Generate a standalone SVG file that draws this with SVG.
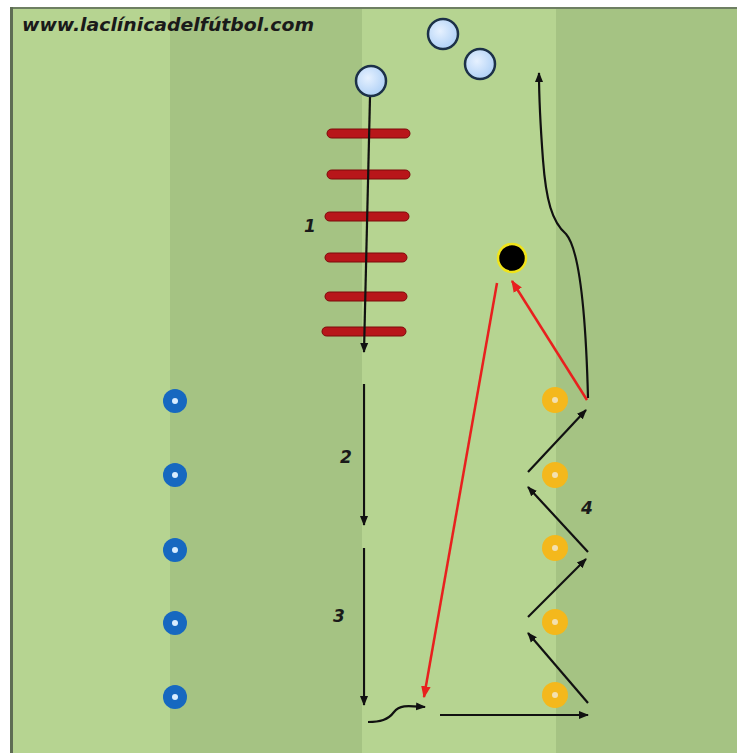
<svg xmlns="http://www.w3.org/2000/svg" width="737" height="753" viewBox="0 0 737 753">
<style>
.lbl{font-family:"DejaVu Sans","Liberation Sans",sans-serif;font-weight:bold;font-style:italic;font-size:17px;fill:#1a1a1a}
.blk{fill:none;stroke:#111;stroke-width:2.2;marker-end:url(#ab)}
.red{fill:none;stroke:#e8201e;stroke-width:2.5;marker-end:url(#ar)}
.rung{fill:#b8161a;stroke:#7d0a0a;stroke-width:1}
.pl{fill:url(#gb);stroke:#1c3148;stroke-width:2.5}
.bc{fill:#1468c0}
.yc{fill:#f4b81c}
.dot{fill:#d8ecff}
</style>
<defs>
<marker id="ab" viewBox="0 0 10 10" refX="9" refY="5" markerWidth="10" markerHeight="10" markerUnits="userSpaceOnUse" orient="auto"><path d="M0,1 L10,5 L0,9 z" fill="#111"/></marker>
<marker id="ar" viewBox="0 0 10 10" refX="9" refY="5" markerWidth="12" markerHeight="12" markerUnits="userSpaceOnUse" orient="auto"><path d="M0,1 L10,5 L0,9 z" fill="#e8201e"/></marker>
<radialGradient id="gb" cx="0.4" cy="0.4" r="0.7"><stop offset="0" stop-color="#e6f1ff"/><stop offset="1" stop-color="#a9cdf5"/></radialGradient>
<filter id="soft" x="-30%" y="-30%" width="160%" height="160%"><feGaussianBlur stdDeviation="0.7"/></filter>
</defs>
<g id="field">
<rect x="0" y="0" width="737" height="753" fill="#ffffff"/>
<rect x="12" y="8" width="725" height="745" fill="#b6d491"/>
<rect x="170" y="8" width="192" height="745" fill="#a5c383"/>
<rect x="556" y="8" width="181" height="745" fill="#a5c383"/>
<rect x="10" y="7" width="727" height="2" fill="#6e7f62"/>
<rect x="10" y="7" width="3" height="746" fill="#5e6d54"/>
</g>
<text id="title" x="22" y="31" class="lbl" font-size="18" textLength="292" lengthAdjust="spacingAndGlyphs">www.laclínicadelfútbol.com</text>
<g id="ladder">
<rect class="rung" x="327" y="129" width="83" height="9" rx="4.5"/>
<rect class="rung" x="327" y="170" width="83" height="9" rx="4.5"/>
<rect class="rung" x="325" y="212" width="84" height="9" rx="4.5"/>
<rect class="rung" x="325" y="253" width="82" height="9" rx="4.5"/>
<rect class="rung" x="325" y="292" width="82" height="9" rx="4.5"/>
<rect class="rung" x="322" y="327" width="84" height="9" rx="4.5"/>
</g>
<g id="connectors">
<path class="blk" d="M370,97 L364,352"/>
<path class="blk" d="M364,384 L364,525"/>
<path class="blk" d="M364,548 L364,705"/>
<path class="blk" d="M368,722 C380,722 388,720 394,712 C400,704 410,706 425,707"/>
<path class="blk" d="M440,715 L588,715"/>
<path class="blk" d="M588,703 L528,633"/>
<path class="blk" d="M528,617 L586,559"/>
<path class="blk" d="M588,552 L528,487"/>
<path class="blk" d="M528,472 L586,410"/>
<path class="blk" d="M588,398 C586,320 580,250 566,234 C552,222 546,200 543,160 C540,120 539,95 539,73"/>
<path class="red" d="M497,283 L424,697"/>
<path class="red" d="M587,400 L512,281"/>
</g>
<g id="players">
<circle id="p1" class="pl" cx="371" cy="81" r="15"/>
<circle id="p2" class="pl" cx="443" cy="34" r="15"/>
<circle id="p3" class="pl" cx="480" cy="64" r="15"/>
</g>
<g id="ball"><circle cx="512" cy="258" r="14" fill="#000" stroke="#f0e41a" stroke-width="2.5"/></g>
<g id="blue-cones" filter="url(#soft)">
<circle class="bc" cx="175" cy="401" r="12"/><circle class="dot" cx="175" cy="401" r="3"/>
<circle class="bc" cx="175" cy="475" r="12"/><circle class="dot" cx="175" cy="475" r="3"/>
<circle class="bc" cx="175" cy="550" r="12"/><circle class="dot" cx="175" cy="550" r="3"/>
<circle class="bc" cx="175" cy="623" r="12"/><circle class="dot" cx="175" cy="623" r="3"/>
<circle class="bc" cx="175" cy="697" r="12"/><circle class="dot" cx="175" cy="697" r="3"/>
</g>
<g id="yellow-cones" filter="url(#soft)">
<circle class="yc" cx="555" cy="400" r="13"/><circle cx="555" cy="400" r="3" fill="#f3e0b0"/>
<circle class="yc" cx="555" cy="475" r="13"/><circle cx="555" cy="475" r="3" fill="#f3e0b0"/>
<circle class="yc" cx="555" cy="548" r="13"/><circle cx="555" cy="548" r="3" fill="#f3e0b0"/>
<circle class="yc" cx="555" cy="622" r="13"/><circle cx="555" cy="622" r="3" fill="#f3e0b0"/>
<circle class="yc" cx="555" cy="695" r="13"/><circle cx="555" cy="695" r="3" fill="#f3e0b0"/>
</g>
<g id="labels">
<text class="lbl" x="304" y="232">1</text>
<text class="lbl" x="340" y="463">2</text>
<text class="lbl" x="333" y="622">3</text>
<text class="lbl" x="581" y="514">4</text>
</g>
</svg>
